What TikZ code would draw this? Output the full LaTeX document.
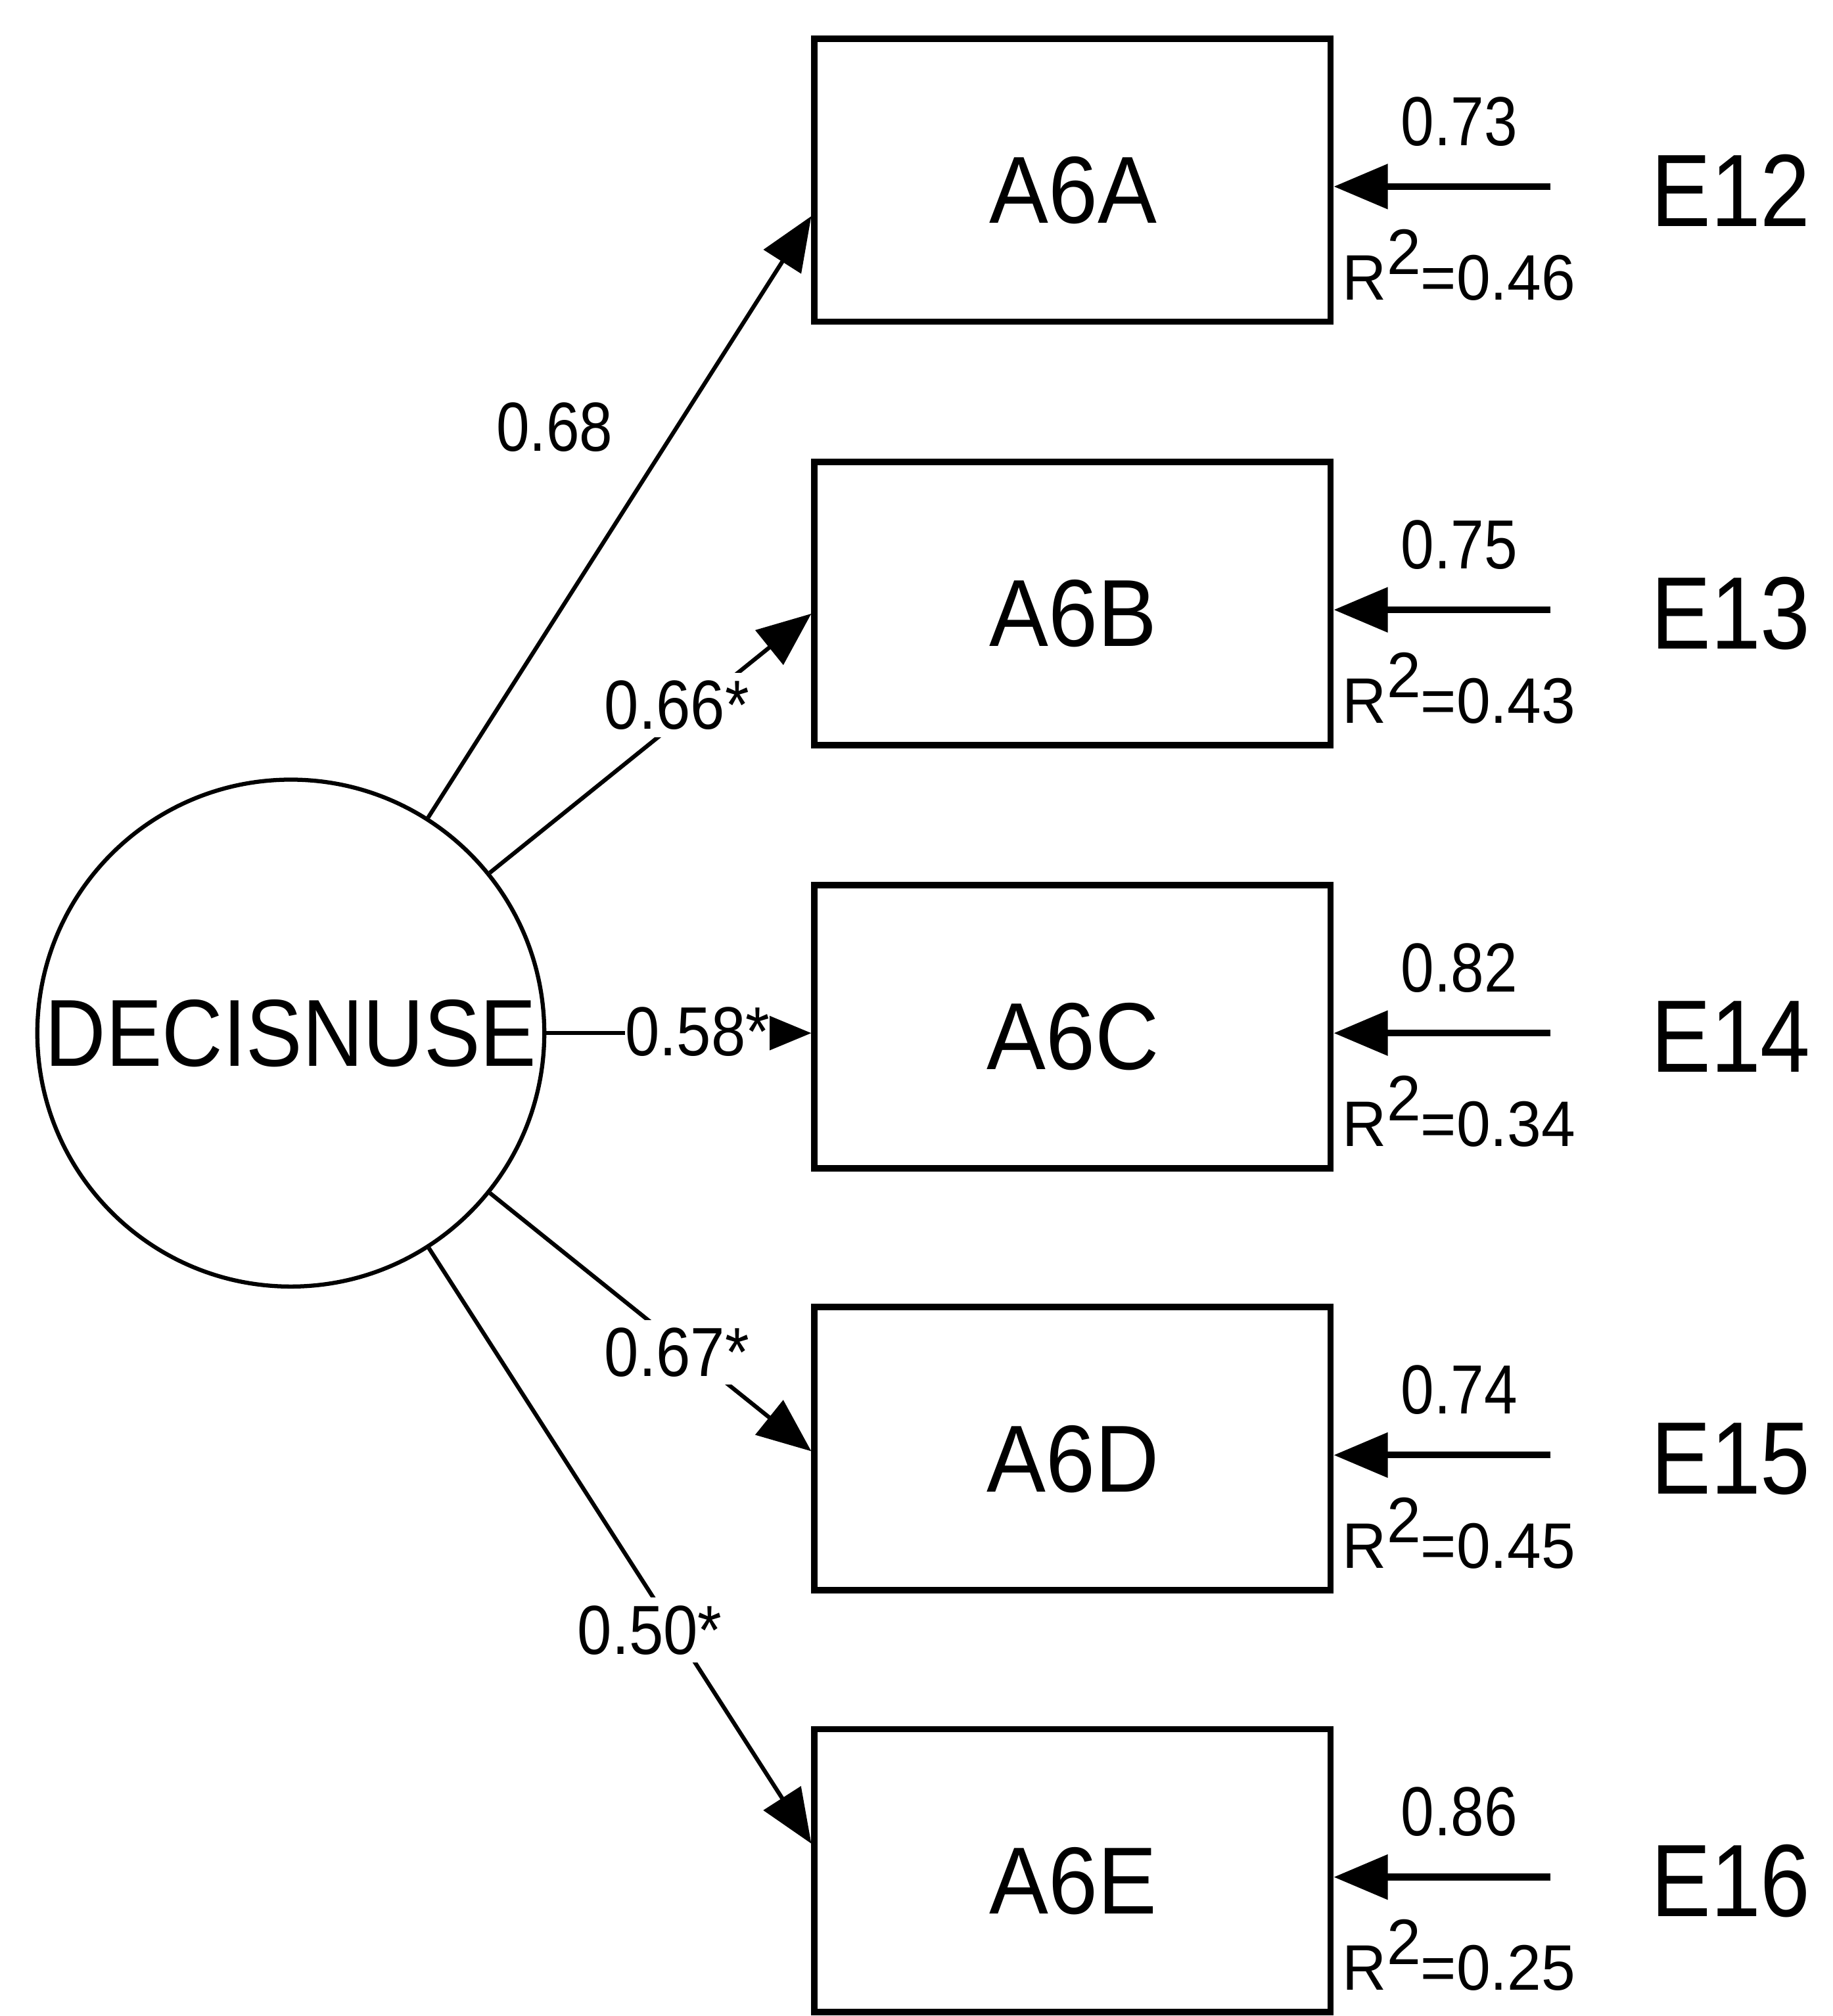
\documentclass[tikz,border=0pt]{standalone}
\usepackage{graphicx}
\usepackage{fontspec}
\setmainfont{Liberation Sans}
\usetikzlibrary{arrows.meta,calc}
\begin{document}
\begin{tikzpicture}[x=0.5pt,y=-0.5pt,
  obs/.style={draw, line width=2.5pt, minimum width=200.5pt, minimum height=110pt, inner sep=0pt},
  lat/.style={draw, circle, line width=1.6pt, minimum size=197pt, inner sep=0pt, font=\fontsize{37pt}{40pt}\selectfont},
  boxlbl/.style={inner sep=0pt, font=\fontsize{37pt}{40pt}\selectfont},
  errlbl/.style={inner sep=0pt, font=\fontsize{40pt}{44pt}\selectfont},
  num/.style={inner sep=0pt, anchor=base, font=\fontsize{27pt}{30pt}\selectfont},
  rsq/.style={inner sep=0pt, anchor=base west, font=\fontsize{25pt}{28pt}\selectfont},
  loadlbl/.style={fill=white, inner sep=3pt, font=\fontsize{27pt}{30pt}\selectfont},
  load/.style={line width=1.6pt, -{Triangle[length=21pt,width=17pt]}},
  err/.style={line width=2.6pt, -{Triangle[length=21pt,width=17pt]}},
]
\useasboundingbox (0,0) rectangle (1424,1567);

% latent variable
\node[lat] (lv) at (226,803) {\scalebox{0.885}[1]{DECISNUSE}};

% observed boxes
\node[obs] (A6A) at (833.5,140) {};
\node[obs] (A6B) at (833.5,469) {};
\node[obs] (A6C) at (833.5,798) {};
\node[obs] (A6D) at (833.5,1126) {};
\node[obs] (A6E) at (833.5,1454) {};

\node[boxlbl] (tA6A) at (834,148) {\scalebox{0.93}[1]{A6A}};
\node[boxlbl] (tA6B) at (834,477) {\scalebox{0.93}[1]{A6B}};
\node[boxlbl] (tA6C) at (834,806) {\scalebox{0.93}[1]{A6C}};
\node[boxlbl] (tA6D) at (834,1134) {\scalebox{0.93}[1]{A6D}};
\node[boxlbl] (tA6E) at (834,1462) {\scalebox{0.93}[1]{A6E}};

% error labels
\node[errlbl] (E12) at (1345,148) {\scalebox{0.87}[1]{E12}};
\node[errlbl] (E13) at (1345,477) {\scalebox{0.87}[1]{E13}};
\node[errlbl] (E14) at (1345,806) {\scalebox{0.87}[1]{E14}};
\node[errlbl] (E15) at (1345,1134) {\scalebox{0.87}[1]{E15}};
\node[errlbl] (E16) at (1345,1462) {\scalebox{0.87}[1]{E16}};

% error arrows
\coordinate (s12) at (1205,145);
\coordinate (s13) at (1205,474);
\coordinate (s14) at (1205,803);
\coordinate (s15) at (1205,1131);
\coordinate (s16) at (1205,1459);
\draw[err] (s12) -- (s12 -| A6A.east);
\draw[err] (s13) -- (s13 -| A6B.east);
\draw[err] (s14) -- (s14 -| A6C.east);
\draw[err] (s15) -- (s15 -| A6D.east);
\draw[err] (s16) -- (s16 -| A6E.east);

% error coefficients
\node[num] (n12) at (1134,113) {\scalebox{0.86}[1]{0.73}};
\node[num] (n13) at (1134,442) {\scalebox{0.86}[1]{0.75}};
\node[num] (n14) at (1134,771) {\scalebox{0.86}[1]{0.82}};
\node[num] (n15) at (1134,1099) {\scalebox{0.86}[1]{0.74}};
\node[num] (n16) at (1134,1427) {\scalebox{0.86}[1]{0.86}};

% R squared
\node[rsq] (r12) at (1043,233) {\scalebox{0.95}[1]{R\raisebox{10pt}{2}=0.46}};
\node[rsq] (r13) at (1043,562) {\scalebox{0.95}[1]{R\raisebox{10pt}{2}=0.43}};
\node[rsq] (r14) at (1043,891) {\scalebox{0.95}[1]{R\raisebox{10pt}{2}=0.34}};
\node[rsq] (r15) at (1043,1219) {\scalebox{0.95}[1]{R\raisebox{10pt}{2}=0.45}};
\node[rsq] (r16) at (1043,1547) {\scalebox{0.95}[1]{R\raisebox{10pt}{2}=0.25}};

% loadings
\draw[load] (lv) -- ($(A6A.west)+(0,28)$);
\draw[load] (lv) -- ($(A6B.west)+(0,8)$);
\draw[load] (lv) -- (A6C.west |- lv.center);
\draw[load] (lv) -- ($(A6D.west)+(0,2)$);
\draw[load] (lv) -- ($(A6E.west)+(0,-21)$);

\node[loadlbl] (l1) at (431,332) {\scalebox{0.86}[1]{0.68}};
\node[loadlbl] (l2) at (526,548) {\scalebox{0.89}[1]{0.66*}};
\node[loadlbl, inner xsep=0pt] (l3) at (542,802) {\scalebox{0.89}[1]{0.58*}};
\node[loadlbl] (l4) at (526,1051) {\scalebox{0.89}[1]{0.67*}};
\node[loadlbl] (l5) at (505,1267) {\scalebox{0.89}[1]{0.50*}};
\end{tikzpicture}
\end{document}
